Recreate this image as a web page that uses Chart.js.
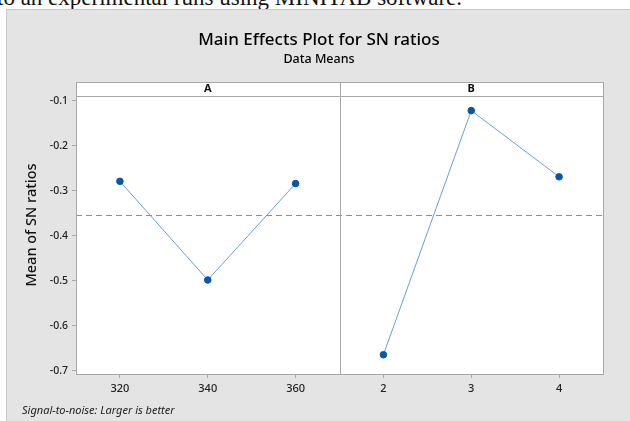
<!DOCTYPE html>
<html>
<head>
<meta charset="utf-8">
<script src="https://cdn.jsdelivr.net/npm/chart.js@4"></script>
<style>
  body { margin: 0; background: #fff; width: 630px; height: 421px; overflow: hidden; position: relative; }
  #topText { position: absolute; left: -3px; top: -15px; font-family: "Liberation Serif", serif; font-size: 23px; color: #111; white-space: nowrap; }
  #panel { position: absolute; left: 6px; top: 9px; width: 630px; height: 420px; background: #e4e4e4; border-left: 1px solid #c8c8c8; border-top: 1px solid #c8c8c8; }
  #grafico { position: absolute; left: 0; top: 0; }
</style>
</head>
<body>
<div id="topText">to an experimental runs using MINITAB software.</div>
<div id="panel"></div>
<canvas id="grafico" width="630" height="421"></canvas>
<script>
// niveles de cada factor
const factores = ["A", "B"];
const nivelesA = ["320", "340", "360"];
const nivelesB = ["2", "3", "4"];
// medias de SN ratio por nivel
const mediasA = [-0.279, -0.498, -0.284];
const mediasB = [-0.664, -0.122, -0.269];
const yTicks = [-0.7, -0.6, -0.5, -0.4, -0.3, -0.2, -0.1];

const etiquetas = nivelesA.concat(nivelesB);
const todas = mediasA.concat(mediasB);
const mediaGeneral = todas.reduce((a, b) => a + b, 0) / todas.length;

const fuente = "'Noto Sans', 'DejaVu Sans', sans-serif";
const colorLinea = "#6a9fd6";
const colorPunto = "#0b57a6";

// Panel, encabezado A/B, linea media y textos extra
const panelesPlugin = {
  id: "paneles",
  beforeDraw(chart) {
    const { ctx, chartArea: ca } = chart;
    ctx.save();
    ctx.fillStyle = "#fff";
    ctx.fillRect(ca.left, ca.top - 14, ca.right - ca.left, ca.bottom - ca.top + 14);
    ctx.restore();
  },
  afterDatasetsDraw(chart) {
    const { ctx, chartArea: ca, scales } = chart;
    const x = scales.x, y = scales.y;
    const xDiv = (x.getPixelForValue(2) + x.getPixelForValue(3)) / 2;
    ctx.save();
    // linea de media
    const ym = y.getPixelForValue(mediaGeneral);
    ctx.strokeStyle = "#8e8e8e";
    ctx.lineWidth = 1;
    ctx.setLineDash([6, 4]);
    ctx.beginPath();
    ctx.moveTo(ca.left, Math.round(ym) + 0.5);
    ctx.lineTo(ca.right, Math.round(ym) + 0.5);
    ctx.stroke();
    ctx.setLineDash([]);
    // bordes
    ctx.strokeStyle = "#a8a8a8";
    ctx.lineWidth = 1;
    ctx.strokeRect(Math.round(ca.left) + 0.5, Math.round(ca.top - 14) + 0.5, Math.round(ca.right - ca.left), Math.round(ca.bottom - ca.top + 14));
    ctx.beginPath();
    ctx.moveTo(ca.left, Math.round(ca.top) + 0.5);
    ctx.lineTo(ca.right, Math.round(ca.top) + 0.5);
    ctx.moveTo(Math.round(xDiv) + 0.5, ca.top - 14);
    ctx.lineTo(Math.round(xDiv) + 0.5, ca.bottom);
    ctx.stroke();
    // letras del encabezado
    ctx.fillStyle = "#111";
    ctx.font = "bold 11px " + fuente;
    ctx.textAlign = "center";
    ctx.textBaseline = "middle";
    ctx.fillText(factores[0], (ca.left + xDiv) / 2, ca.top - 7);
    ctx.fillText(factores[1], (xDiv + ca.right) / 2, ca.top - 7);
    // titulo
    ctx.fillStyle = "#000";
    ctx.font = "500 17px " + fuente;
    ctx.fillText("Main Effects Plot for SN ratios", 319, 40);
    ctx.font = "500 12.5px " + fuente;
    ctx.fillText("Data Means", 319, 59);
    // titulo eje Y
    ctx.save();
    ctx.translate(32, 225);
    ctx.rotate(-Math.PI / 2);
    ctx.fillStyle = "#111";
    ctx.font = "500 14.5px " + fuente;
    ctx.fillText("Mean of SN ratios", 0, 0);
    ctx.restore();
    // nota al pie
    ctx.font = "italic 11px " + fuente;
    ctx.textAlign = "left";
    ctx.fillStyle = "#222";
    ctx.fillText("Signal-to-noise: Larger is better", 22, 411);
    ctx.restore();
  }
};

new Chart(document.getElementById("grafico"), {
  type: "line",
  data: {
    labels: etiquetas,
    datasets: [
      {
        label: factores[0],
        data: mediasA.concat([null, null, null]),
        borderColor: colorLinea,
        borderWidth: 1,
        pointBackgroundColor: colorPunto,
        pointBorderColor: colorPunto,
        pointRadius: 3.3,
        spanGaps: false
      },
      {
        label: factores[1],
        data: [null, null, null].concat(mediasB),
        borderColor: colorLinea,
        borderWidth: 1,
        pointBackgroundColor: colorPunto,
        pointBorderColor: colorPunto,
        pointRadius: 3.3,
        spanGaps: false
      }
    ]
  },
  options: {
    responsive: false,
    animation: false,
    layout: { padding: { left: 0, top: 96, right: 27, bottom: 0 } },
    plugins: {
      legend: { display: false },
      tooltip: { enabled: false }
    },
    scales: {
      x: {
        type: "category",
        offset: true,
        grid: { offset: false, drawOnChartArea: false, drawTicks: true, tickLength: 4, color: "#a8a8a8" },
        border: { display: false },
        ticks: { padding: 4, color: "#222", font: { family: fuente, size: 11, weight: "500" } },
        afterFit(scale) { scale.height = 47; }
      },
      y: {
        min: -0.7067,
        max: -0.0896,
        grid: { drawOnChartArea: false, drawTicks: true, tickLength: 4, color: "#a8a8a8" },
        border: { display: false },
        afterBuildTicks(scale) { scale.ticks = yTicks.map(v => ({ value: v })); },
        ticks: {
          padding: 4,
          color: "#222",
          font: { family: fuente, size: 10.5, weight: "500" },
          callback: v => v.toFixed(1)
        },
        afterFit(scale) { scale.width = 76; }
      }
    }
  },
  plugins: [panelesPlugin]
});
</script>
</body>
</html>
